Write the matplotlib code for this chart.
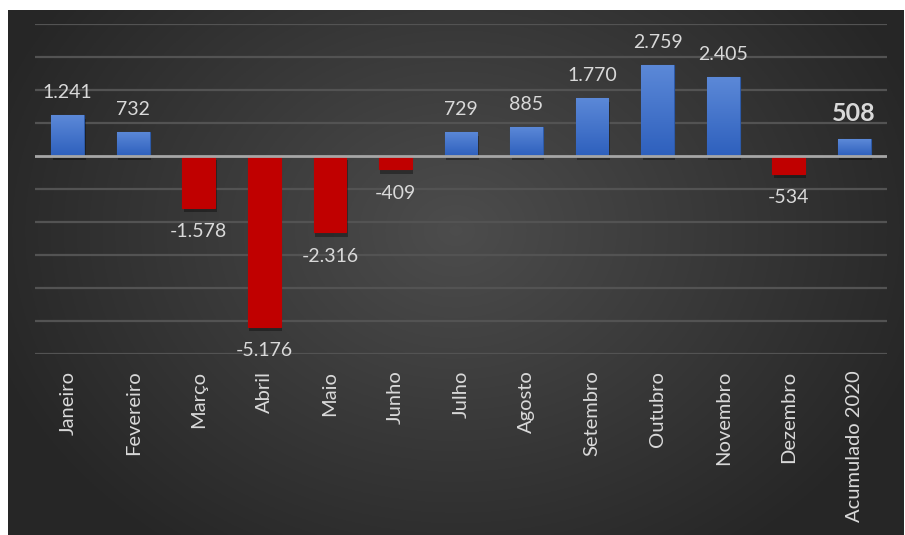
import matplotlib
matplotlib.use("Agg")
import matplotlib.pyplot as plt
import matplotlib.patheffects as pe
from matplotlib.colors import LinearSegmentedColormap
import numpy as np

meses = ["Janeiro", "Fevereiro", "Março", "Abril", "Maio", "Junho", "Julho",
         "Agosto", "Setembro", "Outubro", "Novembro", "Dezembro", "Acumulado 2020"]
saldo = [1241, 732, -1578, -5176, -2316, -409, 729, 885, 1770, 2759, 2405, -534, 508]
rotulos = ["1.241", "732", "-1.578", "-5.176", "-2.316", "-409", "729", "885",
           "1.770", "2.759", "2.405", "-534", "508"]

plt.rcParams['font.family'] = ['Lato', 'DejaVu Sans']

fig = plt.figure(figsize=(9.05, 5.35), dpi=100)
fig.patch.set_facecolor("white")

# fundo escuro com degradê radial
bg = fig.add_axes([8/905, 0, 895/905, 525/535])
bg.set_axis_off()
yy, xx = np.mgrid[0:1:300j, 0:1:500j]
r = np.sqrt(((xx - 0.5) / 0.55) ** 2 + ((yy - 0.42) / 0.75) ** 2)
r = np.clip(r, 0, 1)
g = 0.30 - 0.15 * r
bg.imshow(np.dstack([g, g, g]), aspect="auto", extent=[0, 1, 0, 1], origin="upper")
bg.set_xlim(0, 1)
bg.set_ylim(0, 1)

ax = fig.add_axes([35/905, 181/535, 852/905, 330/535])
ax.patch.set_alpha(0)
x = np.arange(len(meses))
ax.set_xlim(-0.5, len(meses) - 0.5)
ax.set_ylim(-6000, 4000)

for v in range(-6000, 4001, 1000):
    if v != 0:
        ax.axhline(v, color="#535353", lw=1.6, zorder=1)

cores = ["#3f70cc" if v >= 0 else "#c00000" for v in saldo]
bars = ax.bar(x, saldo, width=0.5, color=cores, zorder=3,
              edgecolor=["#2d5aa8" if v >= 0 else "#c00000" for v in saldo], linewidth=0.8)

azul = LinearSegmentedColormap.from_list("azul", ["#2e60bd", "#5c89d8"])
for b, v in zip(bars, saldo):
    b.set_path_effects([pe.SimplePatchShadow(offset=(1, -3), shadow_rgbFace="black", alpha=0.35),
                        pe.Normal()])
    if v > 0:
        grad = np.linspace(1, 0, 100).reshape(-1, 1)
        im = ax.imshow(grad, cmap=azul, aspect="auto", zorder=4,
                       extent=[b.get_x(), b.get_x() + b.get_width(), 0, v])
        im.set_clip_path(b)

ax.set_xlim(-0.5, len(meses) - 0.5)
ax.set_ylim(-6000, 4000)
ax.axhline(0, color="#a6a6a6", lw=2, zorder=5)

for i, (v, t) in enumerate(zip(saldo, rotulos)):
    destaque = i == len(saldo) - 1
    ax.annotate(t, (i, v), xytext=(0, 10 if v >= 0 else -11), textcoords="offset points",
                ha="center", va="bottom" if v >= 0 else "top",
                color="#d9d9d9", fontsize=18 if destaque else 14,
                fontweight="bold" if destaque else "normal", zorder=6)

for s in ax.spines.values():
    s.set_visible(False)
ax.set_yticks([])
ax.set_xticks(x)
ax.set_xticklabels(meses, rotation=90, color="#d9d9d9", fontsize=14.5, va="top", ha="center")
ax.tick_params(axis="x", length=0, pad=12)

fig.savefig("out.png", dpi=100)
